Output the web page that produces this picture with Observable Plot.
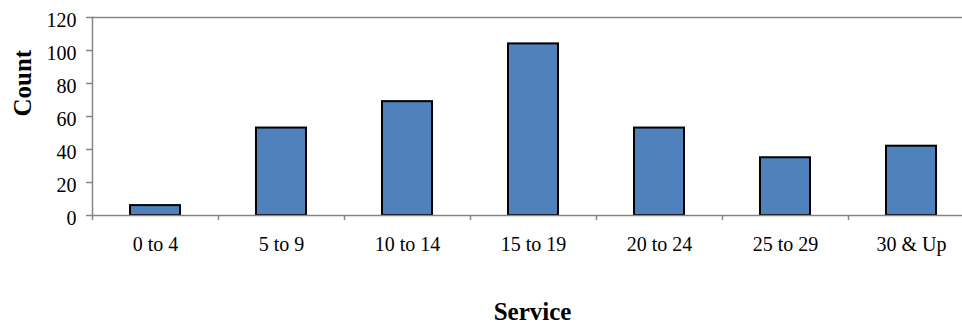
<!DOCTYPE html>
<html>
<head>
<meta charset="utf-8">
<script src="https://cdn.jsdelivr.net/npm/d3@7"></script>
<script src="https://cdn.jsdelivr.net/npm/@observablehq/plot@0.6"></script>
<style>
  html, body { margin: 0; padding: 0; background: #fff; overflow: hidden; }
  #chart svg { display: block; }
  #chart svg text { font-family: "Liberation Serif", "Times New Roman", serif; }
</style>
</head>
<body>
<div id="chart"></div>
<script>
// Head count by years of service
const categories = ["0 to 4", "5 to 9", "10 to 14", "15 to 19", "20 to 24", "25 to 29", "30 & Up"];
const counts = [6, 53, 69, 104, 53, 35, 42];
const yTicks = [0, 20, 40, 60, 80, 100, 120];
const xTitle = "Service";
const yTitle = "Count";

const rows = categories.map((c, i) => ({service: c, count: counts[i]}));

// Category axis runs past the right edge of the page; ticks sit between categories
const xRange = [92, 974];
const step = (xRange[1] - xRange[0]) / categories.length;
const axisGray = "#868686";
const font = "Liberation Serif";

const chart = Plot.plot({
  width: 962,
  height: 324,
  marginLeft: 92,
  marginRight: 0,
  marginTop: 17,
  marginBottom: 109,
  style: {fontFamily: font, background: "#fff", overflow: "hidden", color: "#000"},
  x: {domain: categories, range: xRange, paddingInner: 0.6, paddingOuter: 0.3, axis: null},
  y: {domain: [0, 120], axis: null},
  marks: [
    Plot.ruleY([120], {stroke: axisGray, strokeWidth: 1.5}),
    Plot.barY(rows, {x: "service", y: "count", fill: "#4F81BD", stroke: "#000", strokeWidth: 2}),
    Plot.ruleY([0], {stroke: axisGray, strokeWidth: 1.5}),
    Plot.frame({anchor: "left", stroke: axisGray, strokeWidth: 1.5}),
    // tick marks between categories
    Plot.ruleX(categories, {x: d => d, y1: 0, y2: 0, dx: -step / 2, insetBottom: -5, stroke: axisGray, strokeWidth: 1.5}),
    Plot.axisY(yTicks, {tickSize: 6, tickFormat: () => "", label: null, stroke: axisGray, strokeWidth: 1.5}),
    Plot.text(yTicks, {y: d => d, text: d => String(d), frameAnchor: "left", textAnchor: "end", dx: -16, dy: 3, fontFamily: font, fontSize: 20, fill: "#000"}),
    Plot.text(categories, {x: d => d, text: d => d, frameAnchor: "bottom", lineAnchor: "top", dy: 21, fontFamily: font, fontSize: 20, fill: "#000"}),
    Plot.text([xTitle], {text: d => d, frameAnchor: "bottom", lineAnchor: "top", dy: 87, dx: 5, fontFamily: font, fontSize: 25, fontWeight: "bold", fill: "#000"}),
    Plot.text([yTitle], {text: d => d, frameAnchor: "left", rotate: -90, dx: -70, fontFamily: font, fontSize: 25, fontWeight: "bold", fill: "#000"})
  ]
});

document.getElementById("chart").append(chart);
</script>
</body>
</html>
